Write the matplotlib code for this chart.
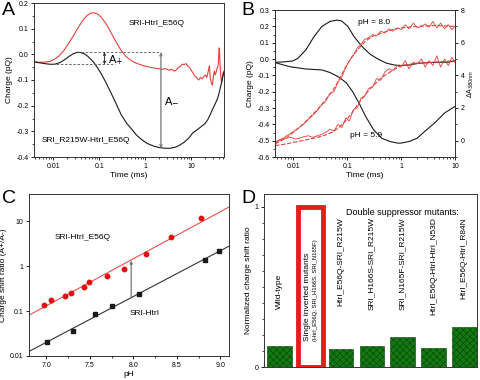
import numpy as np
import matplotlib
matplotlib.use("Agg")
import matplotlib.pyplot as plt
from matplotlib.ticker import LogLocator, NullFormatter, MultipleLocator, FixedLocator

plt.rcParams['font.family'] = ['Liberation Sans', 'DejaVu Sans']
plt.rcParams['hatch.linewidth'] = 0.4

RED = '#e3413c'
BLK = '#1a1a1a'

# ---------------- Panel A data ----------------
tA_black = [0.0038, 0.005, 0.007, 0.009, 0.011, 0.014, 0.018, 0.022, 0.027, 0.033, 0.04, 0.05, 0.06,
            0.075, 0.09, 0.11, 0.14, 0.18, 0.23, 0.3, 0.4, 0.5, 0.65, 0.85, 1.1, 1.5, 2, 2.7, 3.5,
            4.5, 5.5, 7, 9, 11, 14, 17, 20, 23, 26, 30, 34, 38, 42, 46, 50, 52]
qA_black = [-0.029, -0.033, -0.037, -0.039, -0.038, -0.032, -0.02, -0.008, 0.002, 0.008, 0.007, 0.0,
            -0.012, -0.03, -0.05, -0.075, -0.11, -0.15, -0.19, -0.235, -0.27, -0.29, -0.315, -0.333,
            -0.347, -0.357, -0.363, -0.366, -0.366, -0.362, -0.355, -0.343, -0.325, -0.305, -0.292,
            -0.28, -0.27, -0.255, -0.235, -0.21, -0.19, -0.17, -0.14, -0.11, -0.08, -0.07]
tA_red = [0.0038, 0.005, 0.007, 0.0085, 0.01, 0.013, 0.017, 0.022, 0.028, 0.035, 0.045, 0.055, 0.065,
          0.075, 0.09, 0.11, 0.14, 0.18, 0.23, 0.3, 0.38, 0.5, 0.65, 0.85, 1.1, 1.4, 1.8, 2.3, 2.8,
          3.3, 3.8, 4.3, 4.8, 5.3, 5.8, 6.4, 7.0, 7.7, 8.4, 9.2, 10, 11, 12, 13, 14.5, 16, 17.5, 19,
          20.5, 22, 23, 24, 25, 26, 27.5, 29, 30.5, 32, 33.5, 35, 36.5, 38, 39, 40, 41, 42, 43, 44.5,
          46, 48, 50, 52]
qA_red = [-0.029, -0.031, -0.03, -0.027, -0.022, -0.008, 0.015, 0.045, 0.075, 0.105, 0.135, 0.152,
          0.16, 0.162, 0.158, 0.145, 0.12, 0.085, 0.05, 0.015, -0.008, -0.025, -0.035, -0.042, -0.048,
          -0.052, -0.055, -0.058, -0.056, -0.062, -0.058, -0.066, -0.06, -0.05, -0.047, -0.038, -0.04,
          -0.036, -0.045, -0.05, -0.062, -0.072, -0.085, -0.09, -0.1, -0.09, -0.095, -0.085, -0.08,
          -0.09, -0.075, -0.06, -0.045, -0.09, -0.11, -0.12, -0.085, -0.065, -0.08, -0.07, -0.055,
          -0.05, -0.04, 0.0, 0.025, -0.01, -0.05, -0.09, -0.11, -0.09, -0.07, -0.065]

# ---------------- Panel B data ----------------
tB_hi = [0.0046, 0.0065, 0.0098, 0.0122, 0.0171, 0.0242, 0.0342, 0.0482, 0.0636, 0.078, 0.103, 0.135,
         0.191, 0.27, 0.381, 0.538, 0.759, 1.0, 1.41, 2.13, 3.23, 4.88, 7.38, 10]
qB_hi = [-0.02, -0.018, -0.012, 0.004, 0.055, 0.136, 0.2, 0.23, 0.238, 0.234, 0.2, 0.136, 0.075, 0.028,
         -0.002, -0.026, -0.037, -0.04, -0.037, -0.026, -0.022, -0.02, -0.02, -0.01]
tB_lo = [0.0046, 0.0086, 0.0171, 0.0342, 0.0482, 0.068, 0.0962, 0.1265, 0.1664, 0.219, 0.31, 0.437,
         0.617, 0.871, 1.0, 1.41, 1.99, 2.81, 4.25, 6.43, 10]
qB_lo = [-0.022, -0.047, -0.061, -0.067, -0.083, -0.108, -0.145, -0.2, -0.27, -0.35, -0.434, -0.485,
         -0.505, -0.515, -0.515, -0.505, -0.485, -0.44, -0.39, -0.33, -0.29]
tB_fit = [0.0046, 0.006, 0.008, 0.01, 0.014, 0.02, 0.028, 0.04, 0.055, 0.07, 0.09, 0.12, 0.16, 0.22,
          0.3, 0.45, 0.7, 1, 2, 4, 10]
aB_fit_hi = [-0.2, 0.0, 0.25, 0.5, 0.9, 1.4, 1.9, 2.5, 3.1, 3.7, 4.4, 5.1, 5.6, 6.1, 6.4, 6.6, 6.8,
             6.9, 7.0, 7.05, 7.0]
aB_fit_lo = [-0.3, -0.25, -0.18, -0.1, -0.02, 0.1, 0.2, 0.35, 0.55, 0.8, 1.15, 1.65, 2.25, 2.85, 3.35,
             3.9, 4.3, 4.6, 4.75, 4.8, 4.9]
tB_raw = [0.0046, 0.0055, 0.0065, 0.0075, 0.009, 0.011, 0.013, 0.016, 0.019, 0.023, 0.028, 0.034,
          0.04, 0.048, 0.057, 0.068, 0.08, 0.095, 0.11, 0.13, 0.155, 0.18, 0.21, 0.25, 0.3, 0.35,
          0.42, 0.5, 0.6, 0.7, 0.85, 1.0, 1.2, 1.4, 1.7, 2.0, 2.4, 2.8, 3.3, 3.9, 4.6, 5.4, 6.4, 7.5,
          8.8, 10]
aB_raw_hi = [-0.1, 0.05, 0.15, 0.3, 0.45, 0.65, 0.8, 1.05, 1.3, 1.55, 1.85, 2.2, 2.4, 2.9, 3.0, 3.6,
             3.9, 4.5, 4.9, 5.2, 5.7, 5.9, 6.2, 6.3, 6.5, 6.4, 6.7, 6.6, 6.85, 6.7, 6.9, 6.8, 7.1,
             6.85, 7.2, 6.9, 7.0, 7.15, 6.95, 7.3, 6.9, 7.2, 6.85, 7.1, 6.8, 7.0]
aB_raw_lo = [-0.15, 0.0, 0.1, 0.15, 0.2, 0.1, 0.15, 0.25, 0.3, 0.2, 0.3, 0.4, 0.5, 0.7, 0.6, 1.0, 0.8,
             1.4, 1.2, 1.9, 2.0, 2.6, 2.7, 3.2, 3.3, 3.8, 3.7, 4.2, 4.4, 4.3, 4.6, 4.5, 4.9, 4.4, 4.8,
             4.7, 5.0, 4.5, 4.9, 4.6, 5.2, 4.5, 5.0, 4.6, 5.1, 4.8]

# ---------------- Panel C data ----------------
pH_red = [6.97, 7.05, 7.21, 7.28, 7.43, 7.49, 7.70, 7.89, 8.14, 8.43, 8.78]
ratio_red = [0.133, 0.179, 0.22, 0.248, 0.344, 0.45, 0.59, 0.86, 1.88, 4.36, 11.6]
pH_black = [7.01, 7.31, 7.56, 7.75, 8.07, 8.82, 8.99]
ratio_black = [0.0206, 0.0357, 0.088, 0.127, 0.235, 1.36, 2.2]

# ---------------- Panel D data ----------------
d_labels = ['Wild-type', 'Single inverted mutants', 'HtrI_E56Q-SRI_R215W', 'SRI_H166S-SRI_R215W',
            'SRI_N165F-SRI_R215W', 'HtrI_E56Q-HtrI-HtrI_N53D', 'HtrI_E56Q-HtrI_R84N']
d_values = [0.133, 1.0, 0.112, 0.129, 0.19, 0.121, 0.25]

W, H = 480, 380
fig = plt.figure(figsize=(4.8, 3.8), dpi=100)

def box(l, t, r, b):
    return [l / W, 1 - b / H, (r - l) / W, (b - t) / H]

TS = 5.0
LS = 6.0

def style(ax):
    ax.tick_params(labelsize=TS, length=2.5, width=0.6, pad=1.5)
    ax.tick_params(which='minor', length=1.5, width=0.5)
    for s in ax.spines.values():
        s.set_linewidth(0.7)
        s.set_color('#333333')

# ---- A ----
axA = fig.add_axes(box(34, 3, 224, 157))
axA.plot(tA_red, qA_red, color=RED, lw=0.8)
axA.plot(tA_black, qA_black, color=BLK, lw=0.8)
axA.set_xscale('log')
axA.set_xlim(0.0038, 52)
axA.set_ylim(-0.4, 0.2)
axA.set_xticks([0.01, 0.1, 1, 10])
axA.set_xticklabels(['0.01', '0.1', '1', '10'])
axA.xaxis.set_minor_locator(LogLocator(subs=np.arange(2, 10)))
axA.xaxis.set_minor_formatter(NullFormatter())
axA.set_yticks([-0.4, -0.3, -0.2, -0.1, 0.0, 0.1, 0.2])
axA.set_yticklabels(['-0.4', '-0.3', '-0.2', '-0.1', '0.0', '0.1', '0.2'])
axA.yaxis.set_minor_locator(MultipleLocator(0.05))
axA.set_xlabel('Time (ms)', fontsize=LS, labelpad=2)
axA.set_ylabel('Charge (pQ)', fontsize=LS, labelpad=2)
style(axA)
axA.plot([0.033, 2.2], [0.008, 0.008], color='#555555', lw=0.6, ls=(0, (3, 2)))
axA.plot([0.0095, 0.22], [-0.039, -0.039], color='#555555', lw=0.6, ls=(0, (3, 2)))
axA.annotate('', xy=(0.13, 0.008), xytext=(0.13, -0.039),
             arrowprops=dict(arrowstyle='<->', color=BLK, lw=0.6, mutation_scale=4, shrinkA=0, shrinkB=0))
axA.annotate('', xy=(2.2, 0.008), xytext=(2.2, -0.366),
             arrowprops=dict(arrowstyle='<->', color='#777777', lw=0.9, mutation_scale=4, shrinkA=0, shrinkB=0))
axA.text(0.155, -0.022, r'A$_{+}$', fontsize=8, va='center')
axA.text(2.6, -0.18, r'A$_{-}$', fontsize=8, va='center')
axA.text(1.8, 0.12, 'SRI-HtrI_E56Q', fontsize=6, ha='center', va='center')
axA.text(0.05, -0.335, 'SRI_R215W-HtrI_E56Q', fontsize=6, ha='center', va='center')
fig.text(2 / W, 1 - 2 / H, 'A', fontsize=14, va='top', ha='left')

# ---- B ----
axB = fig.add_axes(box(275, 10, 455, 157))
axB2 = axB.twinx()
axB2.plot(tB_raw, aB_raw_hi, color=RED, lw=0.6)
axB2.plot(tB_raw, aB_raw_lo, color=RED, lw=0.6)
axB2.plot(tB_fit, aB_fit_hi, color=RED, lw=0.8, ls=(0, (4, 1.5)))
axB2.plot(tB_fit, aB_fit_lo, color=RED, lw=0.8, ls=(0, (4, 1.5)))
axB.plot(tB_hi, qB_hi, color=BLK, lw=0.8)
axB.plot(tB_lo, qB_lo, color=BLK, lw=0.8)
axB.set_xscale('log')
axB.set_xlim(0.0046, 10)
axB.set_ylim(-0.6, 0.3)
axB2.set_ylim(-1, 8)
axB.set_xticks([0.01, 0.1, 1, 10])
axB.set_xticklabels(['0.01', '0.1', '1', '10'])
axB.xaxis.set_minor_locator(LogLocator(subs=np.arange(2, 10)))
axB.xaxis.set_minor_formatter(NullFormatter())
ytB = [-0.6, -0.5, -0.4, -0.3, -0.2, -0.1, 0.0, 0.1, 0.2, 0.3]
axB.set_yticks(ytB)
axB.set_yticklabels(['%.1f' % v for v in ytB])
axB.yaxis.set_minor_locator(MultipleLocator(0.05))
axB2.set_yticks([0, 2, 4, 6, 8])
axB2.yaxis.set_minor_locator(MultipleLocator(1))
axB.set_xlabel('Time (ms)', fontsize=LS, labelpad=2)
axB.set_ylabel('Charge (pQ)', fontsize=LS, labelpad=2)
axB2.set_ylabel(r'$\Delta$A$_{380nm}$', fontsize=5)
axB2.yaxis.set_label_coords(1.06, 0.5)
style(axB)
style(axB2)
axB.text(0.16, 0.222, 'pH = 8.0', fontsize=6, va='center')
axB.text(0.115, -0.47, 'pH = 5.9', fontsize=6, va='center')
fig.text(241 / W, 1 - 2 / H, 'B', fontsize=14, va='top', ha='left')

# ---- C ----
axC = fig.add_axes(box(29, 194, 229, 356))
xx = np.array([6.8, 9.1])
for px, py, col, lc in [(pH_red, ratio_red, '#e01010', '#e85050'), (pH_black, ratio_black, BLK, '#333333')]:
    k, b = np.polyfit(px, np.log10(py), 1)
    axC.plot(xx, 10 ** (k * xx + b), color=lc, lw=0.8)
    axC.plot(px, py, 's' if col == BLK else 'o', color=col, ms=3.2, mec=col)
axC.set_yscale('log')
axC.set_xlim(6.8, 9.1)
axC.set_ylim(0.01, 40)
axC.set_xticks([7.0, 7.5, 8.0, 8.5, 9.0])
axC.set_xticklabels(['7.0', '7.5', '8.0', '8.5', '9.0'])
axC.xaxis.set_minor_locator(MultipleLocator(0.25))
axC.set_yticks([0.01, 0.1, 1, 10])
axC.set_yticklabels(['0.01', '0.1', '1', '10'])
axC.yaxis.set_minor_locator(FixedLocator([]))
axC.set_xlabel('pH', fontsize=LS, labelpad=2)
axC.set_ylabel('Charge shift ratio (A+/A-)', fontsize=LS, labelpad=2)
style(axC)
axC.annotate('', xy=(7.975, 1.33), xytext=(7.975, 0.21),
             arrowprops=dict(arrowstyle='-|>', color='#777777', lw=0.9, mutation_scale=4,
                             shrinkA=0, shrinkB=0, fc=BLK, ec='#777777'))
axC.text(7.42, 4.4, 'SRI-HtrI_E56Q', fontsize=6, ha='center', va='center')
axC.text(7.96, 0.088, 'SRI-HtrI', fontsize=6, ha='left', va='center')
fig.text(2 / W, 1 - 190 / H, 'C', fontsize=14, va='top', ha='left')

# ---- D ----
axD = fig.add_axes(box(264, 194, 477, 367))
for i, v in enumerate(d_values):
    if i == 1:
        axD.bar(i, v, width=0.8, facecolor='white', edgecolor='#e81c1c', linewidth=3.5)
    else:
        axD.bar(i, v, width=0.8, facecolor='#137a13', edgecolor='#0b3f0b', hatch='xxxxx', linewidth=0.4)
axD.set_xlim(-0.5, 6.41)
axD.set_ylim(0, 1.08)
axD.set_xticks([])
axD.set_yticks([0, 1])
axD.set_yticklabels(['0', '1'])
axD.yaxis.set_minor_locator(MultipleLocator(0.1))
axD.set_ylabel('Normalized charge shift ratio', fontsize=LS, labelpad=2)
style(axD)
axD.text(0, 0.36, d_labels[0], rotation=90, fontsize=6, ha='center', va='bottom')
axD.text(0.9, 0.16, d_labels[1], rotation=90, fontsize=6, ha='center', va='bottom')
axD.text(1.18, 0.16, '(HtrI_E56Q, SRI_H166S, SRI_N165F)', rotation=90, fontsize=4.3,
         ha='center', va='bottom')
for i in range(2, 7):
    axD.text(i, 0.935, d_labels[i], rotation=90, fontsize=6, ha='center', va='top')
axD.text(4.0, 0.965, 'Double suppressor mutants:', fontsize=6.5, ha='center', va='center')
fig.text(241 / W, 1 - 190 / H, 'D', fontsize=14, va='top', ha='left')

fig.savefig('out.png', dpi=100)
